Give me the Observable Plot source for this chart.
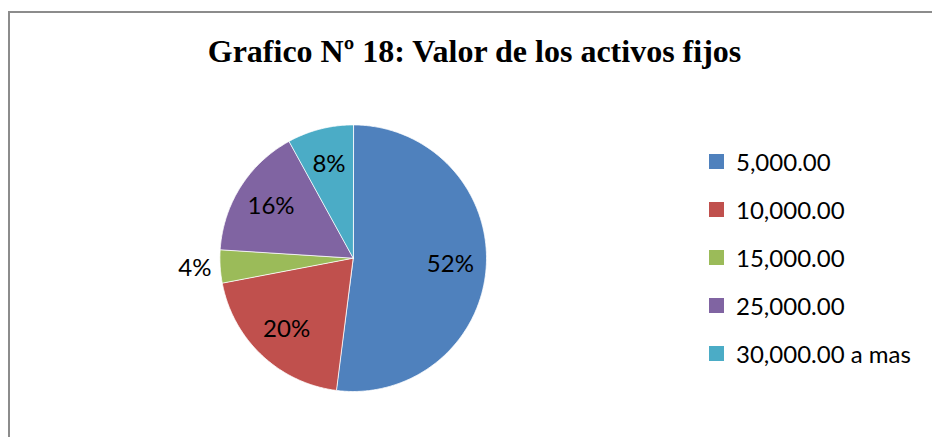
<!DOCTYPE html>
<html>
<head>
<meta charset="utf-8">
<script src="https://cdn.jsdelivr.net/npm/d3@7"></script>
<script src="https://cdn.jsdelivr.net/npm/@observablehq/plot@0.6"></script>
<style>
  html, body { margin: 0; padding: 0; background: white; }
  #wrap { position: relative; width: 932px; height: 437px; overflow: hidden; background: white; }
  #frame { position: absolute; left: 8px; top: 11px; width: 1000px; height: 1000px;
           border-left: 2px solid #8c8c8c; border-top: 2px solid #8c8c8c; }
  #title { position: absolute; left: 0; width: 949px; top: 35px; text-align: center;
           font-family: "Liberation Serif", "Times New Roman", serif; font-weight: bold;
           font-size: 32px; line-height: 32px; color: #000; white-space: nowrap; }
  #legend { position: absolute; left: 709px; top: 137px; font-family: Lato, "Open Sans", sans-serif;
            font-size: 24px; color: #000; }
  .row { height: 48px; display: flex; align-items: center; white-space: nowrap; }
  .sw { width: 15px; height: 15px; margin-right: 12px; flex: none; }
  #chart { position: absolute; left: 0; top: 0; }
</style>
</head>
<body>
<div id="wrap">
  <div id="chart"></div>
  <div id="frame"></div>
  <div id="title">Grafico Nº 18: Valor de los activos fijos</div>
  <div id="legend"></div>
</div>
<script>
const categories = ["5,000.00", "10,000.00", "15,000.00", "25,000.00", "30,000.00 a mas"];
const counts = [13, 5, 1, 4, 2];
const colors = ["#4F81BD", "#C0504D", "#9BBB59", "#8064A2", "#4BACC6"];

const W = 932, H = 437;
const cx = 352.7, cy = 257.7, R = 133.3;

const rows = categories.map((c, i) => ({cat: c, count: counts[i]}));
const total = d3.sum(counts);
const arcs = d3.pie().sort(null).value(d => d.count)(rows);

// slice polygons in unit-circle coordinates (angle clockwise from 12 o'clock, y up)
const pts = [];
for (const a of arcs) {
  pts.push({cat: a.data.cat, x: 0, y: 0});
  const n = Math.max(2, Math.ceil((a.endAngle - a.startAngle) / 0.01));
  for (let k = 0; k <= n; k++) {
    const t = a.startAngle + (a.endAngle - a.startAngle) * k / n;
    pts.push({cat: a.data.cat, x: Math.sin(t), y: Math.cos(t)});
  }
}

const labels = arcs.map(a => {
  const share = a.data.count / total;
  const m = (a.startAngle + a.endAngle) / 2;
  const r = share < 0.05 ? 1.19 : 0.73;
  return {text: Math.round(share * 100) + "%", x: r * Math.sin(m), y: r * Math.cos(m)};
});

const plot = Plot.plot({
  width: W, height: H,
  margin: 0,
  style: {background: "transparent", overflow: "visible"},
  x: {domain: [-cx / R, (W - cx) / R], axis: null},
  y: {domain: [(cy - H) / R, cy / R], axis: null},
  color: {domain: categories, range: colors},
  marks: [
    Plot.line(pts, {x: "x", y: "y", z: "cat", fill: "cat", stroke: "white", strokeWidth: 0.8, curve: "linear-closed"}),
    Plot.text(labels, {x: "x", y: "y", text: "text", fontSize: 24, fontFamily: "Lato, 'Open Sans', sans-serif", fill: "black", textAnchor: "middle", lineAnchor: "middle"})
  ]
});
document.getElementById("chart").appendChild(plot);

const legend = document.getElementById("legend");
categories.forEach((c, i) => {
  const row = document.createElement("div");
  row.className = "row";
  const sw = document.createElement("div");
  sw.className = "sw";
  sw.style.background = colors[i];
  const tx = document.createElement("span");
  tx.textContent = c;
  row.appendChild(sw);
  row.appendChild(tx);
  legend.appendChild(row);
});
</script>
</body>
</html>
